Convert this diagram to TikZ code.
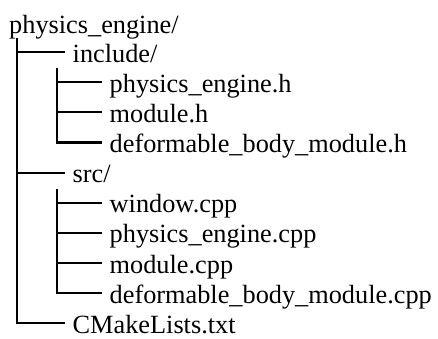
\documentclass[tikz,border=0pt]{standalone}
\usepackage{fontspec}
\setmainfont{Liberation Serif}
\begin{document}
\begin{tikzpicture}[x=1pt,y=-1pt,
  entry/.style={anchor=west,inner xsep=7.5pt,inner ysep=0pt,text height=22pt,text depth=2pt,
    font=\fontsize{26.3}{30}\selectfont},
  branch/.style={line width=2.1pt}]
\useasboundingbox (0,0) rectangle (438,338);
\def\dy{30.15}
\node[entry] (root) at (1.5,23) {physics\_engine/};
\node[entry] (inc) at (65,52) {include/};
\node[entry] (peh) at (102,{52+\dy}) {physics\_engine.h};
\node[entry] (modh) at (102,{52+2*\dy}) {module.h};
\node[entry] (dbmh) at (102,{52+3*\dy}) {deformable\_body\_module.h};
\node[entry] (src) at (65,{52+4*\dy}) {src/};
\node[entry] (win) at (102,{52+5*\dy}) {window.cpp};
\node[entry] (pecpp) at (102,{52+6*\dy}) {physics\_engine.cpp};
\node[entry] (modcpp) at (102,{52+7*\dy}) {module.cpp};
\node[entry] (dbmcpp) at (102,{52+8*\dy}) {deformable\_body\_module.cpp};
\node[entry] (cmake) at (65,{52+9*\dy}) {CMakeLists.txt};
% level 1
\draw[branch] ([shift={(15.5,15)}]root.west) coordinate (t1) |- (cmake.west);
\draw[branch] (t1 |- inc.west) -- (inc.west);
\draw[branch] (t1 |- src.west) -- (src.west);
% level 2: include
\draw[branch] ([shift={(-8,16)}]inc.west) coordinate (t2) |- (dbmh.west);
\draw[branch] (t2 |- peh.west) -- (peh.west);
\draw[branch] (t2 |- modh.west) -- (modh.west);
% level 2: src
\draw[branch] ([shift={(-8,16)}]src.west) coordinate (t3) |- (dbmcpp.west);
\draw[branch] (t3 |- win.west) -- (win.west);
\draw[branch] (t3 |- pecpp.west) -- (pecpp.west);
\draw[branch] (t3 |- modcpp.west) -- (modcpp.west);
\end{tikzpicture}
\end{document}
